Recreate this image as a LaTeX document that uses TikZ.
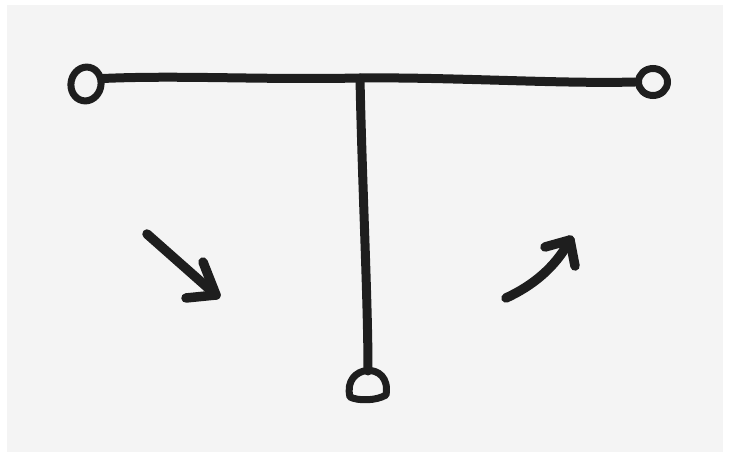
\documentclass[tikz,border=0pt]{standalone}
\usetikzlibrary{shapes.geometric}
\definecolor{paper}{HTML}{F4F4F4}
\definecolor{ink}{HTML}{1E1E1E}
\begin{document}
\begin{tikzpicture}[x=1pt,y=-1pt,
  pen/.style={draw=ink,line width=9pt,line cap=round,line join=round},
  ring/.style={ellipse,draw=ink,line width=7pt,inner sep=0pt},
  arrowpen/.style={draw=ink,line width=9.5pt,line cap=round,line join=round}]
  % page and paper
  \useasboundingbox (0,0) rectangle (729,462);
  \fill[white] (0,0) rectangle (729,462);
  \fill[paper] (7,5) rectangle (723,452);

  % end rings of the T
  \node[ring,minimum width=30pt,minimum height=34pt,rotate=-12] (lring) at (86,84) {};
  \node[ring,minimum width=29pt,minimum height=27pt] (rring) at (653,82) {};
  \coordinate (junction) at (360,78);
  \coordinate (stemend) at (368,371);

  % cross bar, slightly wavy
  \draw[pen] (lring.north east) ++(0,6) .. controls (180,75) and (260,80) .. (junction)
             .. controls (450,77) and (560,84) .. (rring.west);
  % stem
  \draw[pen] (junction) .. controls (362,180) and (368,300) .. (stemend);
  % bottom ring (dome shaped)
  \draw[draw=ink,line width=7pt,line join=round]
    (350,397) .. controls (342,364) and (392,360) .. (386,395)
    .. controls (376,401) and (358,401) .. cycle;

  % left arrow, pointing down-right
  \coordinate (la0) at (147,234);
  \coordinate (la1) at (216,295);
  \draw[arrowpen] (la0) -- (la1);
  \draw[arrowpen] (203,262) -- (216,295) -- (186,298);

  % right arrow, curving up-right
  \coordinate (ra0) at (506,298);
  \coordinate (ra1) at (570,240);
  \draw[arrowpen] (ra0) .. controls (532,286) and (555,268) .. (ra1);
  \draw[arrowpen] (545,247) -- (570,240) -- (575,266);
\end{tikzpicture}
\end{document}
